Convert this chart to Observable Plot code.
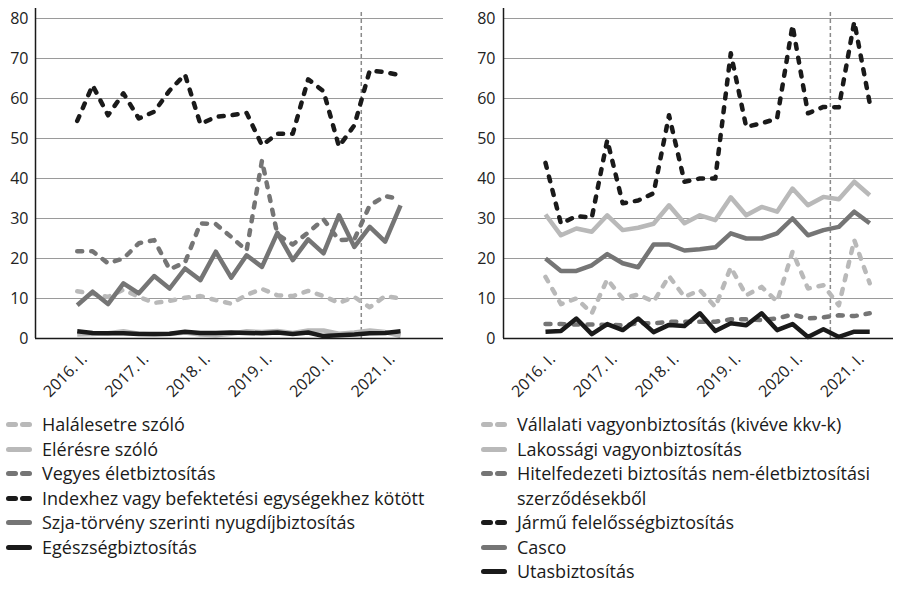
<!DOCTYPE html>
<html><head><meta charset="utf-8">
<script src="https://cdn.jsdelivr.net/npm/d3@7"></script>
<script src="https://cdn.jsdelivr.net/npm/@observablehq/plot@0.6"></script>
<style>
body{margin:0;background:#fff;font-family:"Open Sans",sans-serif;}
#wrap{width:906px;}
#charts{display:flex;}
#legend{display:flex;margin-top:4px;}
.col{display:flex;flex-direction:column;}
.item{display:flex;align-items:flex-start;font-size:18px;line-height:24.5px;color:#1a1a1a;white-space:nowrap;}
.item svg{flex:none;margin-right:10px;}
</style>
</head><body>
<div id="wrap"><div id="charts"></div><div id="legend"></div></div>
<script>
const quarters = ["2016. I.","2016. II.","2016. III.","2016. IV.","2017. I.","2017. II.","2017. III.","2017. IV.","2018. I.","2018. II.","2018. III.","2018. IV.","2019. I.","2019. II.","2019. III.","2019. IV.","2020. I.","2020. II.","2020. III.","2020. IV.","2021. I.","2021. II."];
const tickLabels = ["2016. I.","2017. I.","2018. I.","2019. I.","2020. I.","2021. I."];
const yTicks = [0,10,20,30,40,50,60,70,80];
const markerPos = 18.45;

// Left panel series
const halalesetre = [11.8,11.2,10.4,12.2,10.4,8.9,9.4,10.2,10.6,9.6,8.7,10.9,12.4,10.8,10.6,11.9,10.6,8.9,10.4,7.8,10.6,10.0];
const eleresre = [1.0,1.1,1.3,1.8,1.2,1.0,1.1,1.5,1.0,0.8,1.2,1.8,1.6,1.9,1.4,2.0,2.0,1.2,1.5,2.0,1.6,0.6];
const vegyes = [21.8,21.8,18.8,20.0,23.8,24.6,17.3,19.0,28.8,28.6,25.4,22.0,44.5,26.0,23.5,26.5,29.8,24.6,24.8,33.3,35.6,34.8];
const indexhez = [54.4,63.3,55.8,61.3,55.0,56.7,62.0,66.0,53.6,55.4,55.8,56.4,48.3,51.2,51.2,64.8,61.8,48.0,53.3,67.0,66.6,65.8];
const szja = [8.3,11.7,8.6,13.8,11.3,15.6,12.5,17.5,14.6,21.7,15.2,20.8,17.9,26.4,19.6,24.8,21.3,30.8,22.9,27.9,24.2,33.3];
const egeszseg = [1.8,1.4,1.3,1.3,1.1,1.1,1.2,1.7,1.4,1.4,1.5,1.4,1.3,1.5,1.1,1.5,0.6,0.8,1.0,1.3,1.4,1.8];

// Right panel series
const vallalati = [15.4,8.6,10.0,6.3,14.8,10.0,11.0,9.2,15.6,10.4,12.1,7.9,17.8,10.8,12.9,9.2,21.7,12.5,13.3,8.3,24.6,13.8];
const lakossagi = [31.0,25.8,27.5,26.7,30.8,27.1,27.7,28.7,33.3,28.8,30.8,29.6,35.3,30.8,32.9,31.7,37.5,33.3,35.4,34.8,39.2,35.8];
const hitelfedezeti = [3.6,3.6,3.5,3.5,3.4,3.3,3.8,3.8,4.2,4.2,4.2,4.2,4.8,4.8,4.6,5.0,6.0,5.0,5.3,5.8,5.6,6.3];
const jarmu = [43.9,28.7,30.6,30.2,49.6,33.8,34.5,36.3,55.8,39.2,40.0,40.0,71.3,52.9,53.8,55.0,78.3,56.3,57.9,57.8,79.2,58.8];
const casco = [20.0,16.9,16.9,18.3,21.1,18.8,17.8,23.5,23.5,22.0,22.3,22.8,26.3,25.0,25.0,26.3,30.0,25.8,27.1,27.9,31.7,28.8];
const utas = [1.7,1.9,5.0,1.1,3.6,2.1,5.0,1.6,3.4,3.1,6.3,1.9,3.8,3.3,6.3,2.1,3.6,0.4,2.3,0.4,1.7,1.7];

const BLACK = "#1a1a1a", MID = "#757575", LIGHT = "#b9b9b9";

const leftSeries = [
  {name:"Halálesetre szóló", values:halalesetre, color:LIGHT, dashed:true},
  {name:"Elérésre szóló", values:eleresre, color:LIGHT, dashed:false},
  {name:"Vegyes életbiztosítás", values:vegyes, color:MID, dashed:true},
  {name:"Indexhez vagy befektetési egységekhez kötött", values:indexhez, color:BLACK, dashed:true},
  {name:"Szja-törvény szerinti nyugdíjbiztosítás", values:szja, color:MID, dashed:false},
  {name:"Egészségbiztosítás", values:egeszseg, color:BLACK, dashed:false}
];
const rightSeries = [
  {name:"Vállalati vagyonbiztosítás (kivéve kkv-k)", values:vallalati, color:LIGHT, dashed:true},
  {name:"Lakossági vagyonbiztosítás", values:lakossagi, color:LIGHT, dashed:false},
  {name:"Hitelfedezeti biztosítás nem-életbiztosítási<br>szerződésekből", values:hitelfedezeti, color:MID, dashed:true},
  {name:"Jármű felelősségbiztosítás", values:jarmu, color:BLACK, dashed:true},
  {name:"Casco", values:casco, color:MID, dashed:false},
  {name:"Utasbiztosítás", values:utas, color:BLACK, dashed:false}
];

function panel(series, {width, marginLeft, marginRight, xDomain, tickPad}) {
  const xTickIdx = tickLabels.map(l => quarters.indexOf(l));
  return Plot.plot({
    width, height:408, marginTop:8, marginBottom:70, marginLeft, marginRight,
    x:{domain:xDomain},
    y:{domain:[0,82.5]},
    style:{fontFamily:"'Open Sans', sans-serif", color:"#222", background:"#fff"},
    marks:[
      Plot.gridY(yTicks.filter(d => d > 0), {stroke:"#9a9a9a", strokeOpacity:1, strokeWidth:1}),
      Plot.ruleX([markerPos], {y1:0, y2:81.5, stroke:"#8a8a8a", strokeWidth:1.5, strokeDasharray:"4,3"}),
      ...series.map(s => Plot.line(s.values, {
        x:(d,i) => i, y:d => d, stroke:s.color, strokeWidth:4.5,
        strokeDasharray: s.dashed ? "5,9" : undefined,
        strokeLinecap: s.dashed ? "round" : "butt",
        strokeLinejoin: "round"
      })),
      Plot.ruleY([0], {stroke:BLACK, strokeWidth:1.5}),
      Plot.ruleX([xDomain[0]], {stroke:BLACK, strokeWidth:1.5}),
      Plot.axisY({ticks:yTicks, tickSize:0, tickPadding:tickPad, fontSize:16, label:null}),
      Plot.axisX({ticks:xTickIdx, tickFormat:i => quarters[i], tickRotate:-45, tickSize:0, tickPadding:18, dx:7, fontSize:16, label:null})
    ]
  });
}

const charts = document.getElementById("charts");
charts.append(panel(leftSeries, {width:453, marginLeft:35, marginRight:10, xDomain:[-2.71, 23.79], tickPad:7}));
charts.append(panel(rightSeries, {width:453, marginLeft:50, marginRight:13, xDomain:[-2.72, 22.54], tickPad:8}));

function swatch(s) {
  const ns = "http://www.w3.org/2000/svg";
  const svg = document.createElementNS(ns, "svg");
  svg.setAttribute("width", 26); svg.setAttribute("height", 24.5);
  const segs = s.dashed ? [[2.5,9.5],[16.5,23.5]] : [[2.5,23.5]];
  for (const [a,b] of segs) {
    const l = document.createElementNS(ns, "line");
    l.setAttribute("x1", a); l.setAttribute("x2", b);
    l.setAttribute("y1", 12.5); l.setAttribute("y2", 12.5);
    l.setAttribute("stroke", s.color); l.setAttribute("stroke-width", 5);
    l.setAttribute("stroke-linecap", "round");
    svg.append(l);
  }
  return svg;
}
function column(series, left, width) {
  const col = document.createElement("div");
  col.className = "col";
  col.style.paddingLeft = left + "px";
  col.style.width = width + "px";
  for (const s of series) {
    const it = document.createElement("div");
    it.className = "item";
    it.append(swatch(s));
    const t = document.createElement("span");
    t.innerHTML = s.name;
    it.append(t);
    col.append(it);
  }
  return col;
}
const legend = document.getElementById("legend");
legend.append(column(leftSeries, 6, 475));
legend.append(column(rightSeries, 0, 425));
</script>
</body></html>
